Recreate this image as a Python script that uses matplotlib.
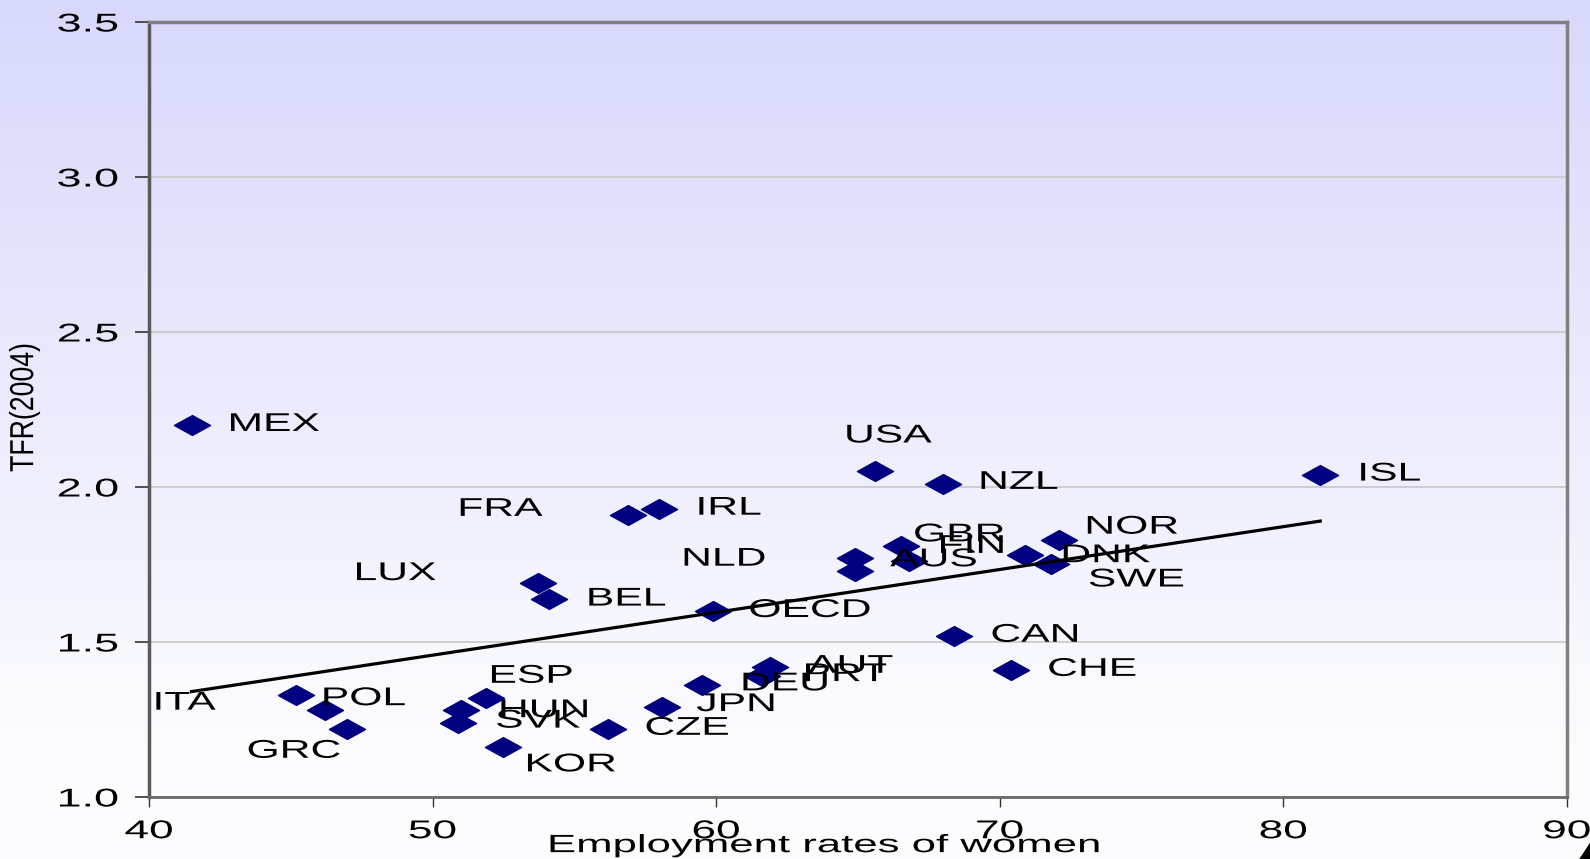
import numpy as np
import matplotlib
matplotlib.use('Agg')
import matplotlib.pyplot as plt
from matplotlib.path import Path
from matplotlib.transforms import Affine2D
from matplotlib.patheffects import AbstractPathEffect

plt.rcParams['font.family'] = ['Liberation Sans', 'DejaVu Sans']

# employment rate of women (%) and total fertility rate, 2004
countries = ['MEX', 'USA', 'NZL', 'ISL', 'FRA', 'IRL', 'LUX', 'BEL', 'OECD',
             'AUS', 'NLD', 'FIN', 'GBR', 'DNK', 'NOR', 'SWE', 'CAN', 'CHE',
             'ITA', 'POL', 'GRC', 'HUN', 'SVK', 'ESP', 'KOR', 'CZE', 'JPN',
             'DEU', 'PRT', 'AUT']
employment = [41.5, 65.6, 68.0, 81.3, 56.9, 58.0, 53.7, 54.1, 59.9,
              64.9, 64.9, 66.5, 66.8, 70.9, 72.1, 71.8, 68.4, 70.4,
              45.2, 46.2, 47.0, 51.0, 50.9, 51.9, 52.5, 56.2, 58.1,
              59.5, 61.6, 61.9]
tfr = [2.20, 2.05, 2.01, 2.04, 1.91, 1.93, 1.69, 1.64, 1.60,
       1.77, 1.73, 1.81, 1.76, 1.78, 1.83, 1.75, 1.52, 1.41,
       1.33, 1.28, 1.22, 1.28, 1.24, 1.32, 1.16, 1.22, 1.29,
       1.36, 1.39, 1.42]

# trend line end points
trend_x = [41.5, 81.3]
trend_y = [1.34, 1.89]

x_ticks = [40, 50, 60, 70, 80, 90]
y_ticks = [1.0, 1.5, 2.0, 2.5, 3.0, 3.5]

# label offsets in pixels (left edge, vertical centre) from each marker
label_offsets = {
    'MEX': (36, 1), 'USA': (-31, 36), 'NZL': (35, 2), 'ISL': (37, 1),
    'FRA': (-171, 6), 'IRL': (36, 1), 'LUX': (-184, 10), 'BEL': (37, 0),
    'OECD': (35, 1), 'AUS': (35, -1), 'NLD': (-174, 12), 'FIN': (37, 0),
    'GBR': (4, 27), 'DNK': (35, 0), 'NOR': (25, 13), 'SWE': (37, -15),
    'CAN': (36, 1), 'CHE': (36, 1), 'ITA': (-144, -8), 'POL': (-4, 12),
    'GRC': (-101, -22), 'HUN': (37, 0), 'SVK': (37, 2), 'ESP': (2, 22),
    'KOR': (21, -17), 'CZE': (36, 1), 'JPN': (34, 3), 'DEU': (38, 2),
    'PRT': (41, 2), 'AUT': (38, 1),
}


class Stretch(AbstractPathEffect):
    """Draw text glyphs stretched along the baseline."""

    def __init__(self, sx, anchor=0.0):
        super().__init__()
        self.sx = sx
        self.anchor = anchor

    def draw_path(self, renderer, gc, tpath, affine, rgbFace=None):
        ext = tpath.get_extents()
        if self.anchor == 0.0:
            x0 = 0.0
        else:
            x0 = ext.x0 + self.anchor * ext.width
        t = Affine2D().translate(-x0, 0).scale(self.sx, 1).translate(x0, 0) + affine
        renderer.draw_path(gc, tpath, t, rgbFace)


fig = plt.figure(figsize=(15.9, 8.59), dpi=100)

# lavender-to-white background
bg = fig.add_axes([0, 0, 1, 1], zorder=-10)
grad = np.linspace(0, 1, 256).reshape(-1, 1)
top = np.array([216, 216, 251]) / 255
bottom = np.array([252, 252, 255]) / 255
img = top + (bottom - top) * np.clip(grad * 1.15, 0, 1)[..., None]
bg.imshow(img.reshape(256, 1, 3), aspect='auto', extent=[0, 1, 0, 1])
bg.axis('off')

ax = fig.add_axes([0.0937, 0.0722, 0.8918, 0.9022])
ax.patch.set_alpha(0)
ax.set_xlim(40, 90)
ax.set_ylim(1.0, 3.5)

for s in ax.spines.values():
    s.set_color('#808080')
    s.set_linewidth(2.5)
ax.spines['left'].set_color('#5a5a5a')
ax.spines['bottom'].set_color('#6a6a6a')
ax.spines['bottom'].set_linewidth(2)

ax.set_xticks(x_ticks)
ax.set_yticks(y_ticks)
ax.set_xticklabels([str(v) for v in x_ticks])
ax.set_yticklabels([f'{v:.1f}' for v in y_ticks])
ax.tick_params(axis='y', length=10, width=1.2, color='#333333', pad=12, labelsize=18.5)
ax.tick_params(axis='x', length=7, width=1, color='#333333', pad=9, labelsize=18.5)
for lab in ax.get_yticklabels():
    lab.set_path_effects([Stretch(1.75, anchor=1.0)])
for lab in ax.get_xticklabels():
    lab.set_path_effects([Stretch(1.72, anchor=0.5)])

ax.grid(axis='y', color='#c8c8c8', linewidth=1.2)
ax.set_axisbelow(True)

# wide diamond marker
diamond = Path([(-1, 0), (0, 0.55), (1, 0), (0, -0.55), (-1, 0)],
               [Path.MOVETO, Path.LINETO, Path.LINETO, Path.LINETO, Path.CLOSEPOLY])
ax.plot(employment, tfr, linestyle='none', marker=diamond, markersize=26,
        color='#000080', zorder=3)

ax.plot(trend_x, trend_y, color='black', linewidth=2.3, zorder=4)

for name, x, y in zip(countries, employment, tfr):
    dx, dy = label_offsets[name]
    t = ax.annotate(name, (x, y), xytext=(dx, dy), textcoords='offset pixels',
                    ha='left', va='center', fontsize=18.5, color='black', zorder=5)
    t.set_path_effects([Stretch(1.66)])

xl = fig.text(0.344, 0.008, 'Employment rates of women', ha='left', va='baseline',
              fontsize=18)
xl.set_path_effects([Stretch(1.75)])

yl = fig.text(0.0155, 0.526, 'TFR(2004)', rotation=90, ha='center', va='center',
              fontsize=24)
yl.set_path_effects([Stretch(0.8, anchor=0.5)])

# page number at the lower right corner
fig.text(0.986, -0.045, '4', ha='left', va='baseline', fontsize=70, fontweight='bold')

fig.savefig('out.png', dpi=100)
